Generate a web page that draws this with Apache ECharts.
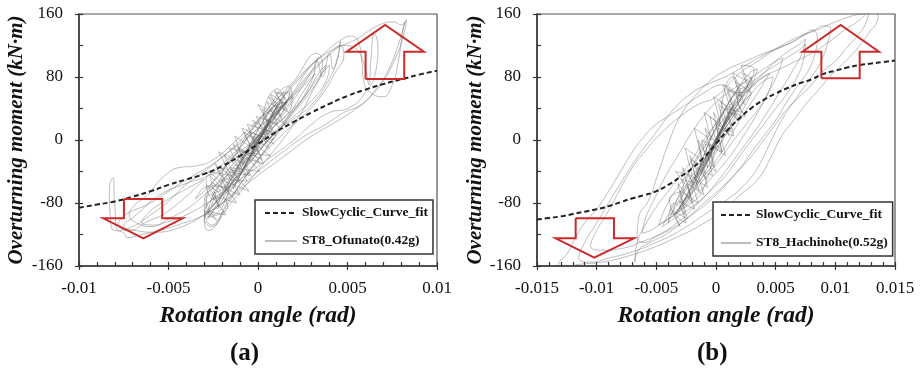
<!DOCTYPE html>
<html>
<head>
<meta charset="utf-8">
<script src="https://cdn.jsdelivr.net/npm/echarts@6/dist/echarts.min.js"></script>
<style>
  html, body { margin: 0; padding: 0; background: #fff; }
  #chart { width: 922px; height: 372px; }
</style>
</head>
<body>
<div id="chart"></div>
<script>
// ---- Panel (a): ST8 under Ofunato (0.42g), rotation (rad) vs moment (kN·m) ----
const ofunatoLoop = [
  [0,0],[0.0004,12],[-0.0003,-10],[0.0007,25],[-0.0005,-22],[0.0009,38],[-0.0008,-35],[0.0011,45],
  [-0.0011,-48],[0.0006,20],[-0.0004,-20],[0.0013,52],[-0.0014,-62],[-0.0006,-30],[0.0010,30],[0.0015,58],
  [-0.0018,-75],[-0.0023,-88],[-0.0012,-45],[0.0002,5],[0.0016,48],[0.0008,40],[-0.0009,-25],[-0.0026,-95],
  [-0.0029,-80],[-0.0021,-50],[-0.0005,-10],[0.0012,30],[0.0018,62],[0.0012,55],[-0.0003,0],[-0.0020,-70],
  [-0.0028,-100],[-0.0024,-65],[-0.0010,-35],[0.0006,10],[0.0019,50],[0.0017,68],[0.0004,35],[-0.0013,-20],
  [-0.0027,-60],[-0.0030,-85],[-0.0026,-108],[-0.0016,-75],[0.0000,-25],[0.0014,20],[0.0025,60],[0.0032,85],
  [0.0026,70],[0.0008,30],[-0.0010,-30],[-0.0025,-75],[-0.0029,-50],[-0.0022,-40],[-0.0004,-5],[0.0015,45],
  [0.0028,90],[0.0034,105],[0.0024,65],[0.0005,5],[-0.0015,-55],[-0.0030,-95],[-0.0028,-115],[-0.0015,-80],
  [0.0003,-30],[0.0020,20],[0.0030,60],[0.0036,95],[0.0033,110],[0.0020,75],[0.0000,25],[-0.0020,-40],
  [-0.0035,-75],
  // dense core oscillations
  [-0.0029,-60],[-0.0022,-85],[-0.0027,-45],[-0.0016,-70],[-0.0024,-30],[-0.0010,-55],[-0.0019,-20],
  [-0.0005,-45],[-0.0014,-5],[0.0001,-30],[-0.0008,10],[0.0006,-10],[-0.0003,25],[0.0010,5],[0.0002,40],
  [0.0015,20],[0.0006,55],[0.0017,35],[0.0009,62],[0.0016,50],[0.0004,30],[0.0012,15],[-0.0002,0],
  [0.0007,-20],[-0.0009,-15],[0.0001,-40],[-0.0016,-35],[-0.0005,-65],[-0.0021,-50],[-0.0012,-80],
  [-0.0026,-70],[-0.0018,-95],[-0.0030,-90],[-0.0023,-102],[-0.0029,-75],[-0.0020,-60],[-0.0028,-40],
  [-0.0015,-45],[-0.0022,-15],[-0.0008,-30],[-0.0013,5],[0.0000,-15],[-0.0006,20],[0.0008,10],[0.0000,45],
  [0.0013,30],[0.0007,58],[0.0016,45],[0.0011,65],[0.0003,25],[0.0009,0],[-0.0005,10],[0.0002,-25],
  [-0.0011,-10],[-0.0004,-45],[-0.0018,-40],[-0.0010,-70],[-0.0025,-55],[-0.0017,-85],[-0.0028,-98],
  [-0.0021,-72],[-0.0029,-58],[-0.0016,-60],[-0.0023,-35],[-0.0010,-40],[-0.0016,-10],[-0.0002,-20],
  [-0.0009,15],[0.0005,0],[-0.0001,30],[0.0011,20],[0.0005,48],[0.0015,38],[0.0010,60],[0.0018,58],
  [0.0013,40],[0.0004,15],[0.0009,-5],[-0.0003,5],[0.0003,-30],[-0.0012,-20],[-0.0006,-52],[-0.0020,-45],
  // mid-size loops toward upper right
  [0.0020,40],[0.0030,75],[0.0033,100],[0.0036,80],[0.0040,110],[0.0042,90],[0.0046,125],[0.0044,100],
  [0.0038,70],[0.0030,45],[0.0022,30],[0.0010,10],[-0.0005,-30],[-0.0020,-70],[-0.0030,-98],[-0.0026,-85],
  [-0.0015,-55],[0.0000,-15],[0.0015,25],[0.0026,55],[0.0034,85],[0.0038,95],[0.0032,70],[0.0020,35],
  [0.0008,5],
  // excursions toward lower left
  [-0.0030,-70],[-0.0040,-88],[-0.0050,-100],[-0.0058,-108],[-0.0065,-105],[-0.0060,-90],[-0.0050,-75],
  [-0.0040,-62],[-0.0030,-50],
  // large cycles
  [-0.0050,-90],[-0.0063,-105],[-0.0072,-115],[-0.0078,-108],[-0.0074,-95],[-0.0060,-80],
  [-0.0048,-62],[-0.0036,-45],[-0.0022,-25],[-0.0005,10],[0.0010,45],[0.0023,80],[0.0035,105],[0.0045,118],
  [0.0055,128],[0.0063,140],[0.0070,148],[0.0076,150],[0.0080,146],[0.0083,153],[0.0081,130],[0.0076,100],
  [0.0070,75],[0.0064,58],[0.0055,40],[0.0045,25],[0.0030,5],[0.0015,-20],[0.0000,-45],[-0.0015,-72],
  [-0.0030,-95],[-0.0045,-108],[-0.0055,-115],[-0.0065,-120],[-0.0073,-124],[-0.0075,-118],[-0.0082,-110],
  [-0.0083,-60],[-0.0081,-48],[-0.0080,-85],[-0.0078,-115],[-0.0070,-110],[-0.0060,-95],[-0.0050,-78],
  [-0.0042,-60],[-0.0030,-40],[-0.0020,-22],[-0.0005,5],[0.0010,35],[0.0020,60],[0.0030,88],[0.0040,108],
  [0.0048,120],[0.0055,115],[0.0060,90],[0.0062,70],[0.0063,100],[0.0065,135],[0.0067,120],[0.0066,90],
  [0.0060,60],[0.0050,40],[0.0040,35],[0.0030,20],[0.0020,0],[0.0005,-25],[-0.0010,-50],[-0.0025,-75],
  [-0.0040,-95],[-0.0052,-105],[-0.0060,-110],[-0.0068,-105],[-0.0072,-95],[-0.0070,-85],[-0.0062,-70],
  [-0.0052,-45],[-0.0044,-35],[-0.0035,-33],[-0.0025,-25],[-0.0012,0],[0.0000,25],[0.0012,50],[0.0022,75],
  [0.0030,95],[0.0038,112],[0.0045,125],[0.0052,132],[0.0056,125],[0.0058,100],[0.0059,75],[0.0063,60],
  [0.0070,55],[0.0075,70],[0.0078,95],[0.0081,140],[0.0082,150],[0.0079,125],[0.0072,85],[0.0065,62],
  [0.0058,45],[0.0048,35],[0.0038,20],[0.0026,5],[0.0014,-15],[0.0000,-40],[-0.0015,-70],[-0.0030,-95],
  [-0.0045,-112],[-0.0058,-117],[-0.0068,-115],[-0.0075,-110],[-0.0068,-95],[-0.0055,-70],[-0.0040,-55],
  [-0.0028,-45],[-0.0015,-20],[0.0000,15],[0.0015,45],[0.0028,80],[0.0036,100],[0.0042,115],[0.0046,120],
  [0.0048,108],[0.0043,85],[0.0035,55],[0.0025,30],[0.0015,10],[0.0002,-20],[-0.0012,-55],[-0.0024,-80],
  [-0.0030,-100],[-0.0026,-110],[-0.0018,-85],[-0.0008,-50],[0.0005,-10],[0.0016,25],[0.0026,55],
  [0.0034,80],[0.0040,95],[0.0038,75],[0.0030,50],[0.0020,30],[0.0008,5],[-0.0005,-30],[-0.0018,-65],
  [-0.0026,-85],[-0.0022,-60],[-0.0010,-25],[0.0004,15],[0.0015,45],[0.0020,55],[0.0012,30],[0.0000,0],
  [-0.0012,-40],[-0.0020,-65],[-0.0012,-35],[0.0000,5],[0.0009,30],[0.0015,48],[0.0008,25],[-0.0004,-10],
  [-0.0010,-30],[-0.0002,0],[0.0006,20],[0.0002,8]
];
const fitA = [
  [-0.010,-86],[-0.009,-82],[-0.008,-78],[-0.007,-72],[-0.006,-65],[-0.005,-57],[-0.004,-50],
  [-0.003,-43],[-0.002,-33],[-0.001,-20],[0,-5],[0.001,10],[0.002,23],[0.003,35],[0.004,46],
  [0.005,56],[0.006,64],[0.007,71],[0.008,77],[0.009,83],[0.010,88]
];
const arrowUpA = [[0.00601,77.5],[0.00601,112],[0.00495,112],[0.0071,146],[0.00927,112],[0.00817,112],[0.00817,77.5],[0.00601,77.5]];
const arrowDownA = [[-0.00749,-75],[-0.00749,-99.5],[-0.00864,-99.5],[-0.0064,-124.8],[-0.00421,-99.5],[-0.00535,-99.5],[-0.00535,-75],[-0.00749,-75]];

// ---- Panel (b): ST8 under Hachinohe (0.52g) ----
const hachinoheLoop = [
  [0,0],[0.0005,15],[-0.0004,-15],[0.0009,30],[-0.0008,-30],[0.0013,42],[-0.0013,-45],[0.0007,20],
  [-0.0006,-25],[0.0016,50],[-0.0017,-58],[-0.0009,-30],[0.0012,35],[0.0020,62],[0.0014,55],[-0.0005,0],
  [-0.0022,-70],[-0.0028,-82],[-0.0016,-45],[0.0003,10],[0.0022,60],[0.0028,75],[0.0018,65],[0.0000,15],
  [-0.0020,-55],[-0.0032,-90],[-0.0024,-70],[-0.0008,-25],[0.0010,25],[0.0025,65],[0.0030,80],[0.0022,55],
  [0.0005,15],[-0.0015,-40],[-0.0030,-75],[-0.0038,-95],[-0.0030,-88],[-0.0015,-55],[0.0002,-10],[0.0018,35],
  [0.0030,70],[0.0035,90],[0.0028,85],[0.0012,50],[-0.0008,0],[-0.0025,-50],[-0.0035,-85],[-0.0040,-105],
  // dense core oscillations
  [-0.0035,-80],[-0.0026,-95],[-0.0032,-55],[-0.0020,-80],[-0.0028,-35],[-0.0014,-65],[-0.0022,-20],
  [-0.0008,-50],[-0.0015,0],[-0.0002,-35],[-0.0009,15],[0.0005,-15],[-0.0002,35],[0.0011,5],[0.0004,50],
  [0.0018,25],[0.0010,65],[0.0024,45],[0.0016,75],[0.0029,60],[0.0022,85],[0.0030,75],[0.0018,50],
  [0.0025,30],[0.0010,35],[0.0015,5],[0.0002,15],[0.0008,-20],[-0.0006,-5],[0.0000,-40],[-0.0014,-25],
  [-0.0007,-60],[-0.0022,-45],[-0.0015,-80],[-0.0030,-65],[-0.0024,-100],[-0.0036,-90],[-0.0030,-110],
  [-0.0039,-75],[-0.0027,-60],[-0.0034,-40],[-0.0020,-45],[-0.0026,-10],[-0.0012,-25],[-0.0018,15],
  [-0.0004,0],[-0.0010,35],[0.0004,20],[-0.0002,55],[0.0012,40],[0.0006,70],[0.0020,55],[0.0014,85],
  [0.0026,75],[0.0021,95],[0.0032,90],[0.0027,70],[0.0017,60],[0.0022,35],[0.0009,40],[0.0013,10],
  [0.0000,20],[0.0005,-15],[-0.0009,-5],[-0.0003,-45],[-0.0017,-35],[-0.0010,-70],[-0.0024,-55],
  [-0.0018,-88],[-0.0031,-78],[-0.0025,-105],[-0.0033,-95],[-0.0022,-70],[-0.0029,-50],[-0.0016,-55],
  [-0.0021,-25],[-0.0007,-35],[-0.0012,0],[0.0001,-10],[-0.0005,30],[0.0009,10],[0.0002,45],[0.0016,30],
  [0.0009,65],[0.0022,55],[0.0015,80],
  // mid-size loops
  [-0.0010,-60],[-0.0030,-90],[-0.0045,-105],[-0.0055,-115],[-0.0062,-118],[-0.0058,-95],[-0.0050,-70],
  [-0.0042,-45],[-0.0032,-20],[-0.0020,10],[-0.0005,40],[0.0010,60],[0.0025,75],[0.0040,90],[0.0050,100],
  [0.0056,104],[0.0052,85],[0.0044,60],[0.0035,35],[0.0025,10],[0.0012,-20],[-0.0005,-50],[-0.0020,-75],
  [-0.0035,-95],[-0.0048,-108],[-0.0042,-85],[-0.0032,-60],[-0.0020,-35],[-0.0008,-5],[0.0008,30],
  [0.0022,55],[0.0035,75],[0.0045,85],[0.0035,60],[0.0020,25],[0.0005,-15],[-0.0015,-55],[-0.0030,-85],
  // large cycles
  [-0.0035,-95],[-0.0020,-60],[-0.0005,-15],[0.0012,30],[0.0028,65],[0.0040,85],[0.0050,100],[0.0060,112],
  [0.0070,122],[0.0075,128],[0.0072,110],[0.0065,90],[0.0055,65],[0.0045,40],[0.0032,10],[0.0015,-25],
  [0.0000,-55],[-0.0018,-85],[-0.0035,-108],[-0.0050,-122],[-0.0060,-130],[-0.0066,-125],[-0.0065,-100],
  [-0.0056,-75],[-0.0048,-40],[-0.0040,-5],[-0.0030,30],[-0.0018,55],[-0.0005,75],[0.0010,90],[0.0025,100],
  [0.0040,110],[0.0055,118],[0.0070,130],[0.0083,140],[0.0090,145],[0.0096,142],[0.0094,125],[0.0088,100],
  [0.0080,80],[0.0068,55],[0.0055,25],[0.0045,-5],[0.0035,-35],[0.0025,-55],[0.0010,-75],[-0.0010,-95],
  [-0.0030,-115],[-0.0050,-130],[-0.0070,-142],[-0.0090,-150],[-0.0105,-155],[-0.0115,-150],[-0.0110,-130],
  [-0.0102,-110],[-0.0090,-80],[-0.0078,-50],[-0.0065,-20],[-0.0050,10],[-0.0035,40],[-0.0020,60],
  [-0.0005,72],[0.0010,82],[0.0025,95],[0.0040,108],[0.0055,120],[0.0070,132],[0.0085,140],[0.0100,150],
  [0.0115,158],[0.0125,162],[0.0132,170],[0.0136,165],[0.0135,150],[0.0130,140],[0.0123,125],[0.0115,110],
  [0.0105,95],[0.0095,80],[0.0085,62],[0.0075,45],[0.0065,25],[0.0055,5],[0.0045,-25],[0.0035,-50],
  [0.0020,-70],[0.0005,-90],[-0.0015,-110],[-0.0035,-125],[-0.0055,-138],[-0.0075,-148],[-0.0095,-155],
  [-0.0115,-158],[-0.0128,-162],[-0.0132,-158],[-0.0125,-145],[-0.0118,-125],[-0.0110,-105],[-0.0100,-88],
  [-0.0090,-65],[-0.0080,-40],[-0.0070,-15],[-0.0060,5],[-0.0050,20],[-0.0040,30],[-0.0030,40],[-0.0020,50],
  [-0.0010,60],[0.0005,70],
  [0.0020,60],[0.0040,80],[0.0060,95],[0.0080,110],[0.0095,125],[0.0108,140],[0.0120,152],[0.0128,165],
  [0.0126,150],[0.0120,135],[0.0110,118],[0.0100,100],[0.0090,88],[0.0080,70],[0.0070,55],[0.0060,40],
  [0.0050,20],[0.0040,0],[0.0030,-20],[0.0015,-45],[0.0000,-70],[-0.0020,-95],[-0.0040,-115],[-0.0060,-128],
  [-0.0080,-138],[-0.0095,-140],[-0.0105,-135],[-0.0100,-115],[-0.0092,-95],[-0.0083,-70],[-0.0072,-40],
  [-0.0060,-15],[-0.0045,10],[-0.0030,30],[-0.0015,45],[0.0000,55],
  [0.0020,85],[0.0035,100],[0.0050,115],[0.0065,125],[0.0075,135],[0.0080,140],
  [0.0085,130],[0.0083,110],[0.0078,90],[0.0070,72],[0.0060,50],[0.0050,25],[0.0040,5],[0.0030,-15],
  [0.0018,-40],[0.0005,-60],[-0.0010,-80],[-0.0025,-100],[-0.0040,-118],[-0.0055,-130],[-0.0065,-140],
  [-0.0068,-155],[-0.0066,-130],[-0.0060,-110],[-0.0050,-85],[-0.0040,-65],[-0.0030,-45],[-0.0020,-25],
  [-0.0010,0],[0.0002,25],[0.0015,50],[0.0028,70],[0.0040,85],[0.0050,95],[0.0060,105],[0.0070,115],
  [0.0075,122],[0.0073,100],[0.0068,80],[0.0060,60],[0.0050,40],[0.0040,20],[0.0030,0],[0.0020,-20],
  [0.0008,-45],[-0.0005,-65],[-0.0020,-85],[-0.0035,-100],[-0.0045,-110],[-0.0040,-95],[-0.0030,-70],
  [-0.0020,-50],[-0.0008,-20],[0.0005,15],[0.0018,40],[0.0030,60],[0.0040,75],[0.0048,80],[0.0045,65],
  [0.0038,45],[0.0028,25],[0.0015,0],[0.0003,-25],[-0.0010,-50],[-0.0022,-70],[-0.0030,-80],[-0.0024,-55],
  [-0.0012,-30],[0.0000,-5],[0.0012,25],[0.0022,45],[0.0030,60],[0.0025,45],[0.0015,20],[0.0005,0],
  [-0.0008,-30],[-0.0018,-50],[-0.0010,-25],[0.0000,0],[0.0010,25],[0.0018,40],[0.0010,20],[0.0000,0]
];
const fitB = [
  [-0.015,-101],[-0.014,-99],[-0.013,-97],[-0.012,-94],[-0.011,-91],[-0.010,-88],[-0.009,-84],
  [-0.008,-79],[-0.007,-74],[-0.006,-70],[-0.005,-65],[-0.004,-57],[-0.003,-47],[-0.002,-36],
  [-0.001,-22],[0,-5],[0.001,13],[0.002,28],[0.003,41],[0.004,51],[0.005,59],[0.006,66],
  [0.007,72],[0.008,77],[0.009,84],[0.010,88],[0.011,92],[0.012,95],[0.013,97],[0.014,99],[0.015,101]
];
const arrowUpB = [[0.00883,78.3],[0.00883,112],[0.00724,112],[0.01045,146],[0.01366,112],[0.01204,112],[0.01204,78.3],[0.00883,78.3]];
const arrowDownB = [[-0.01176,-99.5],[-0.01176,-124.8],[-0.01344,-124.8],[-0.0102,-149.4],[-0.00687,-124.8],[-0.00855,-124.8],[-0.00855,-99.5],[-0.01176,-99.5]];

const fitName = 'SlowCyclic_Curve_fit';
const nameA = 'ST8_Ofunato(0.42g)';
const nameB = 'ST8_Hachinohe(0.52g)';

const serif = "'Liberation Serif', 'Times New Roman', serif";
const axisColor = '#333';
const arrowColor = '#cc2a2a';
const traceColor = 'rgba(100,100,100,0.42)';

function mainX(min, max, gridIndex) {
  return {
    type: 'value', gridIndex, min, max, interval: 0.005,
    name: 'Rotation angle (rad)', nameLocation: 'middle', nameGap: 38,
    nameTextStyle: { fontFamily: serif, fontWeight: 'bold', fontStyle: 'italic', fontSize: 23.5, color: '#111' },
    axisLine: { onZero: false, lineStyle: { color: axisColor, width: 1.5 } },
    axisTick: { inside: true, length: 4, lineStyle: { color: axisColor, width: 1.2 } },
    minorTick: { show: true, splitNumber: 5, length: 4, lineStyle: { color: axisColor, width: 1.2 } },
    axisLabel: { fontFamily: serif, fontSize: 17, color: '#111', margin: 14 },
    splitLine: { show: false }
  };
}
function helperX(min, max, gridIndex) {
  return {
    type: 'value', gridIndex, min, max, interval: 0.005, position: 'bottom',
    axisLine: { show: false, onZero: false },
    axisTick: { inside: false, length: 4, lineStyle: { color: axisColor, width: 1.2 } },
    axisLabel: { show: false }, splitLine: { show: false }
  };
}
function mainY(gridIndex, gap) {
  return {
    type: 'value', gridIndex, min: -160, max: 160, interval: 80,
    name: 'Overturning moment (kN·m)', nameLocation: 'middle', nameGap: gap,
    nameTextStyle: { fontFamily: serif, fontWeight: 'bold', fontStyle: 'italic', fontSize: 21, color: '#111' },
    axisLine: { onZero: false, lineStyle: { color: axisColor, width: 1.5 } },
    axisTick: { inside: true, length: 4, lineStyle: { color: axisColor, width: 1.2 } },
    minorTick: { show: true, splitNumber: 2, length: 4, lineStyle: { color: axisColor, width: 1.2 } },
    axisLabel: { fontFamily: serif, fontSize: 17, color: '#111', margin: 16 },
    splitLine: { show: false }
  };
}
function helperY(gridIndex) {
  return {
    type: 'value', gridIndex, min: -160, max: 160, interval: 80, position: 'left',
    axisLine: { show: false, onZero: false },
    axisTick: { inside: false, length: 4, lineStyle: { color: axisColor, width: 1.2 } },
    axisLabel: { show: false }, splitLine: { show: false }
  };
}
function traceSeries(name, data, idx) {
  return {
    name, type: 'line', data, xAxisIndex: idx, yAxisIndex: idx,
    symbol: 'none', smooth: 0.5, clip: true, z: 2,
    lineStyle: { color: traceColor, width: 1 }, itemStyle: { color: traceColor }
  };
}
function fitSeries(data, idx) {
  return {
    name: fitName, type: 'line', data, xAxisIndex: idx, yAxisIndex: idx,
    symbol: 'none', smooth: true, z: 4,
    lineStyle: { color: '#222', width: 2, type: [5, 3] }, itemStyle: { color: '#222' }
  };
}
function arrowSeries(data, idx) {
  return {
    type: 'line', data, xAxisIndex: idx, yAxisIndex: idx, symbol: 'none', z: 5,
    lineStyle: { color: arrowColor, width: 2, join: 'miter' }, silent: true
  };
}
function legendFor(left, top, traceName, iconWidth, pad, fontSize) {
  return {
    data: [fitName, traceName], orient: 'vertical', left, top,
    padding: pad, itemGap: 14, itemWidth: iconWidth, itemHeight: 14,
    itemStyle: { opacity: 0 },
    borderColor: '#333', borderWidth: 1.5, backgroundColor: '#fff',
    textStyle: { fontFamily: serif, fontWeight: 'bold', fontSize, color: '#111' }
  };
}

const chart = echarts.init(document.getElementById('chart'), null, { renderer: 'canvas' });
chart.setOption({
  animation: false,
  backgroundColor: '#fff',
  grid: [
    { left: 79, top: 14, width: 358, height: 252, show: true, borderColor: '#555', borderWidth: 1.2 },
    { left: 537, top: 14, width: 358, height: 252, show: true, borderColor: '#555', borderWidth: 1.2 }
  ],
  xAxis: [mainX(-0.01, 0.01, 0), mainX(-0.015, 0.015, 1), helperX(-0.01, 0.01, 0), helperX(-0.015, 0.015, 1)],
  yAxis: [mainY(0, 52), mainY(1, 50), helperY(0), helperY(1)],
  legend: [
    legendFor(255, 200, nameA, 32, [6, 5, 6, 9], 13.5),
    legendFor(713, 202, nameB, 30, [6, 5, 6, 7], 13.5)
  ],
  graphic: [
    { type: 'text', left: 230, top: 341, style: { text: '(a)', font: 'bold 25px ' + serif, fill: '#111' } },
    { type: 'text', left: 697, top: 341, style: { text: '(b)', font: 'bold 25px ' + serif, fill: '#111' } }
  ],
  series: [
    traceSeries(nameA, ofunatoLoop, 0),
    fitSeries(fitA, 0),
    arrowSeries(arrowUpA, 0),
    arrowSeries(arrowDownA, 0),
    traceSeries(nameB, hachinoheLoop, 1),
    fitSeries(fitB, 1),
    arrowSeries(arrowUpB, 1),
    arrowSeries(arrowDownB, 1)
  ]
});
</script>
</body>
</html>
